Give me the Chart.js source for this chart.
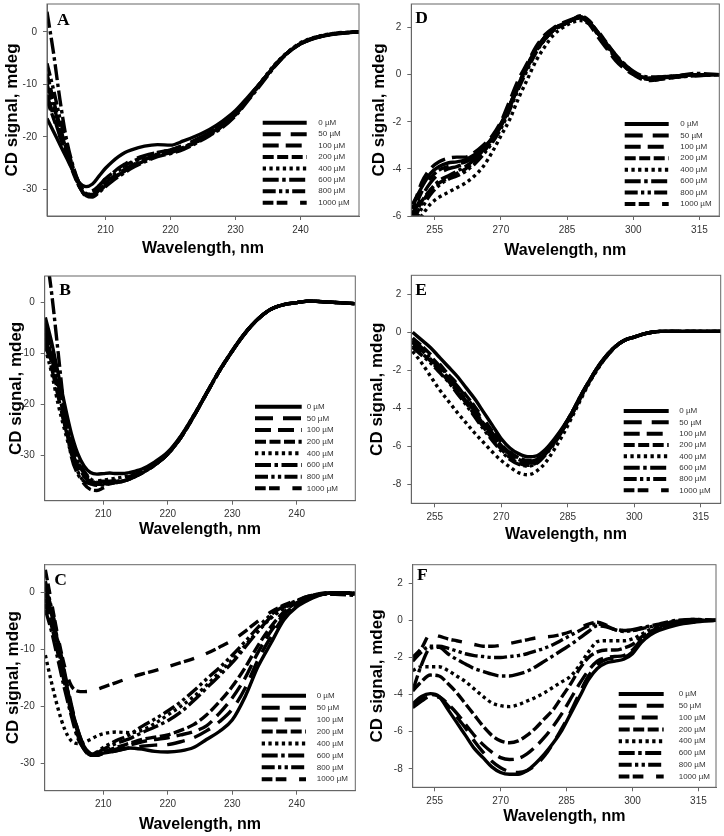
<!DOCTYPE html>
<html>
<head>
<meta charset="utf-8">
<script src="https://cdn.jsdelivr.net/npm/chart.js@4.4.1/dist/chart.umd.min.js"></script>
<style>
  html,body{margin:0;padding:0;background:#fff;}
  #wrap{position:relative;width:724px;height:836px;overflow:hidden;background:#fff;}
  canvas{position:absolute;}
</style>
</head>
<body>
<div id="wrap"></div>
<script>
// ---------- series labels ----------
const seriesLabels = ['0 µM','50 µM','100 µM','200 µM','400 µM','600 µM','800 µM','1000 µM'];

// ---------- tick labels ----------
const xTicksFar = [210, 220, 230, 240];
const xTicksNear = [255, 270, 285, 300, 315];
const yTicksFar = [0, -10, -20, -30];
const yTicksD = [2, 0, -2, -4, -6];
const yTicksEF = [2, 0, -2, -4, -6, -8];

// ---------- wavelengths ----------
const wlA = [201,202,203,204,205,206,207,208,209,210,211,212,213,214,216,218,220,222,224,226,228,230,232,234,236,238,240,242,245,249];
const wlB = [201,202,203,204,205,206,207,208,209,210,211,212,213,214,215,216,218,220,222,224,226,228,230,232,234,236,238,240,242,245,249];
const wlC = [201,202,203,204,205,206,207,208,209,210,212,214,216,218,220,222,224,226,228,230,232,234,236,238,240,242,244,246,249];
const wlD = [250,252,254,256,258,260,262,264,266,268,270,272,274,276,278,280,282,284,286,288,290,292,294,296,298,300,302,304,306,310,314,320];
const wlE = [250,252,254,256,258,260,262,264,266,268,270,272,274,276,278,280,282,284,286,288,290,292,294,296,298,300,302,304,306,310,314,320];
const wlF = [250,252,254,256,258,260,262,264,266,268,270,272,274,276,278,280,282,284,286,288,290,292,294,296,298,300,302,304,306,310,314,319];

// ---------- panel A ----------
const A_0    = [-16.5,-19,-21.5,-24,-26.5,-28.8,-29.5,-29,-27.5,-26,-24.8,-23.8,-23,-22.5,-21.8,-21.5,-21.6,-20.8,-19.8,-18.6,-17,-15,-12.3,-9.5,-6.5,-4,-2.3,-1.3,-0.5,0];
const A_50   = [-12,-16,-20,-23.5,-26.5,-29.2,-30.5,-30.3,-29.3,-28,-27,-26,-25.2,-24.5,-23.6,-23,-22.5,-21.6,-20.5,-19.2,-17.6,-15.5,-12.6,-9.6,-6.5,-4,-2.3,-1.3,-0.4,0];
const A_100  = [-10,-14,-18.5,-22.5,-26,-29,-30.8,-31,-30,-28.8,-27.8,-27,-26.2,-25.5,-24.3,-23.4,-22.8,-22,-20.8,-19.4,-17.8,-15.6,-12.7,-9.7,-6.6,-4.1,-2.3,-1.3,-0.4,0];
const A_200  = [-8,-13,-18,-22.5,-26.2,-29.5,-31.2,-31.3,-30.5,-29.3,-28.3,-27.3,-26.5,-25.8,-24.6,-23.6,-23,-22.2,-21,-19.6,-18,-15.8,-12.8,-9.7,-6.5,-4,-2.2,-1.2,-0.4,0];
const A_400  = [-11,-15,-19,-23,-26.5,-29.5,-31,-30.8,-29.8,-28.5,-27.5,-26.5,-25.8,-25,-24,-23.3,-22.8,-22,-20.8,-19.4,-17.8,-15.6,-12.5,-9.4,-6.3,-3.9,-2.1,-1.1,-0.3,0];
const A_600  = [3.8,-4,-13,-20.5,-25.5,-29,-31.2,-31.5,-30.6,-29.5,-28.5,-27.6,-26.8,-26,-24.8,-23.8,-23.2,-22.4,-21.2,-19.8,-18.2,-16,-13,-9.9,-6.7,-4.1,-2.3,-1.2,-0.4,0];
const A_800  = [-6,-11,-16.5,-21.5,-25.8,-29.3,-31.3,-31.2,-30.2,-29,-28,-27.2,-26.5,-25.6,-24.4,-23.5,-23,-22.2,-21,-19.6,-18,-15.8,-12.7,-9.6,-6.5,-4,-2.2,-1.2,-0.4,0];
const A_1000 = [-13,-16.5,-20,-23.5,-26.8,-29.6,-31,-30.6,-29.4,-28,-27,-26.2,-25.5,-24.8,-23.8,-23,-22.5,-21.7,-20.6,-19.2,-17.6,-15.4,-12.5,-9.5,-6.4,-4,-2.3,-1.2,-0.4,0];

// ---------- panel B ----------
const B_0    = [-3,-8,-14,-20,-25.5,-29.5,-32,-33.3,-33.6,-33.5,-33.4,-33.5,-33.5,-33.3,-33,-32.6,-31.2,-29.3,-26.2,-22.2,-17.8,-13.4,-9.5,-6,-3.3,-1.4,-0.5,-0.1,0.2,0,-0.3];
const B_50   = [-5,-10,-16,-22,-27,-31,-33.5,-34.6,-35,-35,-35,-34.8,-34.5,-34.1,-33.6,-33,-31.5,-29.5,-26.3,-22.3,-17.8,-13.4,-9.5,-6,-3.3,-1.4,-0.5,-0.1,0.2,0,-0.3];
const B_100  = [-8,-13,-18.5,-24,-28.5,-32,-34,-35,-35.3,-35.3,-35.2,-35,-34.8,-34.4,-33.9,-33.3,-31.7,-29.6,-26.4,-22.3,-17.9,-13.5,-9.6,-6,-3.3,-1.4,-0.5,-0.1,0.2,0,-0.3];
const B_200  = [-6,-11,-17,-23,-28,-31.8,-34,-35.2,-35.6,-35.6,-35.4,-35.2,-35,-34.6,-34,-33.4,-31.8,-29.7,-26.5,-22.4,-17.9,-13.5,-9.6,-6.1,-3.3,-1.4,-0.5,-0.1,0.2,0,-0.3];
const B_400  = [-9,-14,-20,-25,-29.5,-33,-35,-35.3,-35,-34.8,-34.6,-34.4,-34.2,-33.9,-33.5,-33,-31.5,-29.5,-26.3,-22.2,-17.8,-13.4,-9.5,-6,-3.3,-1.4,-0.5,-0.1,0.2,0,-0.3];
const B_600  = [11,1.5,-10,-21.5,-30,-33.5,-35,-35.5,-35.8,-35.7,-35.5,-35.2,-35,-34.6,-34,-33.4,-31.8,-29.7,-26.5,-22.4,-17.9,-13.5,-9.6,-6.1,-3.3,-1.4,-0.5,-0.1,0.2,0,-0.3];
const B_800  = [-4,-9,-15,-21,-26.5,-30.5,-33,-34.5,-35.2,-35.5,-35.4,-35.2,-35,-34.6,-34,-33.4,-31.8,-29.7,-26.5,-22.4,-17.9,-13.5,-9.6,-6.1,-3.3,-1.4,-0.5,-0.1,0.2,0,-0.3];
const B_1000 = [-7,-12,-18,-24,-29,-33,-35.5,-36.6,-36.8,-36.3,-35.8,-35.3,-35,-34.6,-34,-33.4,-31.8,-29.7,-26.5,-22.4,-17.9,-13.5,-9.6,-6.1,-3.3,-1.4,-0.5,-0.1,0.2,0,-0.3];

// ---------- panel C ----------
const C_0    = [0,-4,-9,-14.5,-20,-24,-27,-28.3,-28.6,-28.2,-27.8,-27.3,-27.5,-27.9,-28,-27.8,-27.2,-25.8,-24.4,-22.4,-18.3,-13,-8.9,-4.8,-2.5,-1.2,-0.3,0,-0.2];
const C_50   = [1,-3,-8.5,-14,-19.5,-24,-27,-28.3,-28.5,-28.2,-27.8,-27.3,-27,-26.8,-26.7,-26.2,-25.5,-24.3,-22.7,-20.5,-16.8,-11.8,-7.8,-4.3,-2.3,-1,-0.3,0,-0.2];
const C_100  = [-1,-5,-10,-15,-20,-24.5,-27.2,-28.5,-28.6,-28.2,-27.5,-26.8,-26.2,-25.8,-25.5,-25,-24.4,-23.4,-21.2,-18.5,-15,-10.5,-6.8,-3.9,-2.1,-0.9,-0.3,0,-0.2];
const C_200  = [-2,-6,-11,-16,-21,-25,-27.5,-28.6,-28.5,-28,-27.2,-26.5,-25.8,-25.4,-25,-24.2,-23.2,-21.5,-19.2,-16.5,-13.2,-9.3,-6,-3.4,-1.8,-0.8,-0.2,0,-0.2];
const C_400  = [-11,-16,-20.5,-24,-26,-26.5,-26.3,-25.8,-25.2,-24.8,-24.5,-24.6,-24.2,-23,-21.5,-20,-18.3,-16.3,-14,-11.8,-9.3,-6.8,-4.5,-2.8,-1.6,-0.7,-0.2,0,-0.2];
const C_600  = [-3,-7,-12,-17,-21.5,-25.5,-27.5,-28.5,-28.2,-27.5,-26.5,-25.7,-24.6,-23.6,-22.5,-21,-19,-16.8,-14.6,-12.3,-9.6,-6.8,-4.3,-2.6,-1.5,-0.7,-0.3,-0.3,-0.5];
const C_800  = [2,-3,-9,-15,-20,-24.5,-27.3,-28.5,-28,-27.2,-26,-25,-23.5,-22.2,-20.8,-19.2,-17.3,-15.2,-13.2,-11,-8.6,-6.1,-3.9,-2.4,-1.4,-0.6,-0.2,0,-0.2];
const C_1000 = [4,-2,-8,-13,-16.3,-17.3,-17.4,-17.3,-17,-16.6,-15.8,-15,-14.3,-13.7,-13,-12.3,-11.6,-10.7,-9.6,-8.4,-6.8,-5,-3.4,-2.2,-1.3,-0.6,-0.1,0,0];

// ---------- panel D ----------
const D_0    = [-5.5,-4.8,-4.2,-3.9,-3.75,-3.7,-3.6,-3.4,-3.1,-2.7,-2.1,-1.3,-0.4,0.4,1.1,1.6,1.95,2.15,2.3,2.45,2.2,1.75,1.25,0.8,0.4,0.1,-0.1,-0.15,-0.1,-0.05,0,0];
const D_50   = [-6,-5.2,-4.6,-4.2,-4,-3.9,-3.75,-3.5,-3.2,-2.8,-2.2,-1.4,-0.5,0.3,1.0,1.5,1.9,2.1,2.3,2.5,2.25,1.8,1.3,0.8,0.4,0.1,-0.1,-0.2,-0.15,-0.05,0,0];
const D_100  = [-5.7,-4.6,-4.0,-3.7,-3.55,-3.5,-3.5,-3.3,-3.0,-2.6,-2.0,-1.1,-0.2,0.5,1.2,1.7,2.0,2.2,2.35,2.45,2.15,1.6,1.1,0.6,0.25,0,-0.2,-0.25,-0.2,-0.1,-0.05,0];
const D_200  = [-6.2,-5.4,-4.9,-4.6,-4.4,-4.2,-4.0,-3.7,-3.3,-2.8,-2.2,-1.4,-0.5,0.3,1.0,1.5,1.9,2.1,2.3,2.4,2.2,1.75,1.25,0.75,0.35,0.05,-0.15,-0.2,-0.15,-0.05,0,0];
const D_400  = [-6.5,-6.0,-5.5,-5.2,-5.0,-4.8,-4.6,-4.3,-3.9,-3.3,-2.6,-1.9,-1.0,-0.2,0.6,1.2,1.7,2.0,2.2,2.3,2.15,1.7,1.2,0.7,0.35,0.05,-0.1,-0.15,-0.1,-0.05,0,0];
const D_600  = [-6.3,-5.5,-4.9,-4.5,-4.3,-4.1,-3.9,-3.6,-3.2,-2.7,-2.1,-1.3,-0.4,0.4,1.1,1.6,1.95,2.15,2.3,2.45,2.25,1.8,1.3,0.85,0.45,0.15,-0.05,-0.1,-0.1,-0.05,0.05,0];
const D_800  = [-6.4,-5.7,-5.1,-4.7,-4.45,-4.3,-4.1,-3.8,-3.4,-2.9,-2.3,-1.5,-0.6,0.2,0.95,1.5,1.9,2.1,2.3,2.45,2.2,1.75,1.25,0.8,0.4,0.1,-0.1,-0.2,-0.15,-0.1,-0.05,0];
const D_1000 = [-5.9,-5.0,-4.4,-4.05,-3.9,-3.8,-3.7,-3.5,-3.2,-2.7,-2.1,-1.3,-0.4,0.4,1.1,1.6,1.95,2.15,2.3,2.5,2.3,1.85,1.35,0.85,0.45,0.1,-0.15,-0.25,-0.2,-0.1,0,0];

// ---------- panel E ----------
const E_0    = [0,-0.4,-0.8,-1.3,-1.8,-2.3,-2.9,-3.5,-4.2,-4.9,-5.6,-6.1,-6.4,-6.55,-6.5,-6.15,-5.6,-4.95,-4.2,-3.3,-2.5,-1.75,-1.15,-0.7,-0.4,-0.25,-0.1,0,0.05,0.05,0.05,0.05];
const E_50   = [-0.4,-0.8,-1.25,-1.75,-2.3,-2.8,-3.4,-4.0,-4.7,-5.3,-5.9,-6.35,-6.65,-6.8,-6.7,-6.3,-5.7,-5.0,-4.2,-3.3,-2.5,-1.75,-1.15,-0.7,-0.4,-0.25,-0.1,0,0.05,0.05,0.05,0.05];
const E_100  = [-0.55,-0.95,-1.4,-1.9,-2.4,-3.0,-3.6,-4.2,-4.85,-5.45,-6.0,-6.45,-6.75,-6.9,-6.75,-6.35,-5.75,-5.05,-4.25,-3.35,-2.55,-1.8,-1.2,-0.7,-0.4,-0.25,-0.1,0,0.05,0.05,0.05,0.05];
const E_200  = [-0.7,-1.1,-1.5,-2.0,-2.55,-3.1,-3.7,-4.35,-5.0,-5.6,-6.15,-6.6,-6.9,-7.0,-6.85,-6.4,-5.8,-5.1,-4.3,-3.4,-2.55,-1.8,-1.2,-0.7,-0.4,-0.25,-0.1,0,0.05,0.05,0.05,0.05];
const E_400  = [-1.0,-1.6,-2.3,-3.0,-3.6,-4.2,-4.75,-5.3,-5.8,-6.3,-6.75,-7.1,-7.4,-7.5,-7.3,-6.85,-6.15,-5.35,-4.45,-3.5,-2.6,-1.85,-1.2,-0.7,-0.4,-0.25,-0.1,0,0.05,0.05,0.05,0.05];
const E_600  = [-0.5,-0.9,-1.35,-1.85,-2.4,-2.95,-3.55,-4.15,-4.8,-5.4,-5.95,-6.4,-6.7,-6.85,-6.7,-6.3,-5.7,-5.0,-4.2,-3.3,-2.5,-1.75,-1.15,-0.7,-0.4,-0.25,-0.1,0,0.05,0.05,0.05,0.05];
const E_800  = [-0.8,-1.2,-1.6,-2.1,-2.6,-3.2,-3.8,-4.45,-5.1,-5.7,-6.25,-6.7,-6.95,-7.05,-6.9,-6.45,-5.85,-5.1,-4.3,-3.4,-2.55,-1.8,-1.2,-0.7,-0.4,-0.25,-0.1,0,0.05,0.05,0.05,0.05];
const E_1000 = [-0.3,-0.7,-1.15,-1.65,-2.2,-2.7,-3.3,-3.9,-4.55,-5.2,-5.8,-6.3,-6.6,-6.75,-6.65,-6.3,-5.7,-5.0,-4.2,-3.3,-2.5,-1.75,-1.15,-0.7,-0.4,-0.25,-0.1,0,0.05,0.05,0.05,0.05];

// ---------- panel F ----------
const F_0    = [-4.5,-4.1,-3.95,-4.1,-4.8,-5.5,-6.2,-6.9,-7.4,-7.9,-8.2,-8.3,-8.3,-8.1,-7.7,-7.2,-6.6,-5.9,-5.0,-4.1,-3.2,-2.6,-2.3,-2.2,-2.1,-1.8,-1.2,-0.8,-0.55,-0.25,-0.1,0];
const F_50   = [-4.7,-4.35,-4.1,-4.15,-4.6,-5.2,-5.8,-6.5,-7.1,-7.6,-7.95,-8.15,-8.2,-8.1,-7.8,-7.3,-6.6,-5.8,-4.9,-3.9,-3.0,-2.4,-2.1,-2.05,-2.0,-1.7,-1.1,-0.7,-0.45,-0.2,-0.05,0];
const F_100  = [-4.6,-4.2,-4.0,-4.1,-4.5,-5.0,-5.6,-6.2,-6.7,-7.1,-7.4,-7.5,-7.45,-7.2,-6.8,-6.3,-5.7,-5.0,-4.2,-3.4,-2.7,-2.2,-2.0,-1.95,-1.9,-1.6,-1.05,-0.7,-0.45,-0.15,0,0];
const F_200  = [-3.8,-3.3,-2.95,-3.0,-3.4,-3.9,-4.5,-5.1,-5.7,-6.2,-6.5,-6.6,-6.5,-6.2,-5.8,-5.3,-4.8,-4.1,-3.4,-2.6,-2.0,-1.7,-1.6,-1.6,-1.5,-1.3,-0.9,-0.6,-0.4,-0.1,0.05,0];
const F_400  = [-2.7,-2.5,-2.5,-2.5,-2.7,-3.0,-3.3,-3.7,-4.1,-4.45,-4.6,-4.65,-4.55,-4.35,-4.15,-3.9,-3.6,-3.3,-3.0,-2.4,-1.7,-1.15,-1.1,-1.1,-1.1,-1.0,-0.75,-0.5,-0.35,-0.1,0,0];
const F_600  = [-3.8,-2.4,-1.5,-1.45,-1.8,-2.1,-2.35,-2.6,-2.75,-2.9,-3.0,-3.0,-2.9,-2.75,-2.5,-2.2,-1.9,-1.6,-1.3,-0.95,-0.6,-0.3,-0.35,-0.5,-0.55,-0.5,-0.4,-0.3,-0.2,0,0.05,0];
const F_800  = [-2.2,-1.7,-1.4,-1.4,-1.5,-1.65,-1.8,-1.9,-1.95,-2.0,-2.0,-1.95,-1.9,-1.8,-1.65,-1.5,-1.3,-1.05,-0.8,-0.55,-0.3,-0.2,-0.3,-0.5,-0.6,-0.55,-0.45,-0.35,-0.25,-0.05,0,0];
const F_1000 = [-2.0,-1.5,-0.75,-0.85,-1.0,-1.1,-1.2,-1.3,-1.4,-1.4,-1.35,-1.25,-1.15,-1.05,-0.95,-0.9,-0.85,-0.75,-0.6,-0.4,-0.2,-0.1,-0.25,-0.45,-0.55,-0.55,-0.45,-0.35,-0.25,-0.05,0,0];

// ---------- styles ----------
const dashes = [[], [18,10], [16,7], [11,3.5], [3.3,3.4], [16,3.5,3.5,3.5], [13,3.3,3.3,3.3,3.3,3.3], [10.7,3.3,10.7,12.7]];
const FONT = '"Liberation Sans", Arial, Helvetica, sans-serif';

const panels = [
  {letter:'A', cx:0,   cy:0,   cw:362, ch:262, area:[47,4,359,216],      xr:[201,249], yr:[-35.1,5.3], xt:xTicksFar,  yt:yTicksFar, wl:wlA, s:[A_0,A_50,A_100,A_200,A_400,A_600,A_800,A_1000], lt:{dx:10,dy:21}, lg:{dx:-96.3,dy:-93.3,len:44,tx:-40.7,sp:11.43}, xtp:4.4, ytp:3},
  {letter:'D', cx:362, cy:0,   cw:362, ch:262, area:[411.3,4,719.3,216], xr:[249.7,319.5], yr:[-6,3], xt:xTicksNear, yt:yTicksD,  wl:wlD, s:[D_0,D_50,D_100,D_200,D_400,D_600,D_800,D_1000], lt:{dx:4,dy:19.3}, lg:{dx:-94.6,dy:-92,len:44,tx:-39,sp:11.43}, xtp:1.7, ytp:7.9},
  {letter:'B', cx:0,   cy:262, cw:362, ch:283, area:[44.7,276,355.3,500.7], xr:[200.9,249.1], yr:[-38.8,5.1], xt:xTicksFar, yt:yTicksFar, wl:wlB, s:[B_0,B_50,B_100,B_200,B_400,B_600,B_800,B_1000], lt:{dx:14.6,dy:19}, lg:{dx:-100.3,dy:-94,len:46.7,tx:-48.6,sp:11.66}, xtp:6.4, ytp:7},
  {letter:'E', cx:362, cy:262, cw:362, ch:283, area:[411.3,275.3,720.7,503.3], xr:[249.7,319.5], yr:[-9,3], xt:xTicksNear, yt:yTicksEF, wl:wlE, s:[E_0,E_50,E_100,E_200,E_400,E_600,E_800,E_1000], lt:{dx:4,dy:19.7}, lg:{dx:-97,dy:-92.3,len:45,tx:-41.4,sp:11.33}, xtp:1.4, ytp:6},
  {letter:'C', cx:0,   cy:545, cw:362, ch:291, area:[44.7,564.7,355.3,790.7], xr:[200.9,249.1], yr:[-34.8,4.9], xt:xTicksFar, yt:yTicksFar, wl:wlC, s:[C_0,C_50,C_100,C_200,C_400,C_600,C_800,C_1000], lt:{dx:9.6,dy:20.3}, lg:{dx:-93.6,dy:-95,len:44.3,tx:-38.6,sp:11.94}, xtp:2.4, ytp:3.7},
  {letter:'F', cx:362, cy:545, cw:362, ch:291, area:[412.7,564.7,716,787.3], xr:[250,319], yr:[-9,3], xt:xTicksNear, yt:yTicksEF, wl:wlF, s:[F_0,F_50,F_100,F_200,F_400,F_600,F_800,F_1000], lt:{dx:4.3,dy:15.3}, lg:{dx:-97.3,dy:-93.3,len:45,tx:-37.3,sp:11.8}, xtp:9.7, ytp:6}
];

const panelDecor = {
  id: 'panelDecor',
  afterDatasetsDraw(chart, args, o) {
    const ctx = chart.ctx, a = chart.chartArea;
    ctx.save();
    ctx.setLineDash([]);
    ctx.strokeStyle = '#666';
    ctx.lineWidth = 1;
    ctx.strokeRect(a.left, a.top, a.right - a.left, a.bottom - a.top);
    chart.data.datasets.forEach((ds, i) => {
      const y = a.bottom + o.lg.dy + i * o.lg.sp;
      const x0 = a.right + o.lg.dx;
      ctx.beginPath();
      ctx.setLineDash(ds.borderDash || []);
      ctx.lineDashOffset = 0;
      ctx.lineCap = 'butt';
      ctx.lineWidth = 4;
      ctx.strokeStyle = '#000';
      ctx.moveTo(x0, y);
      ctx.lineTo(x0 + o.lg.len, y);
      ctx.stroke();
      ctx.setLineDash([]);
      ctx.fillStyle = '#333';
      ctx.font = '8px ' + FONT;
      ctx.textBaseline = 'middle';
      ctx.textAlign = 'left';
      ctx.fillText(ds.label, a.right + o.lg.tx, y);
    });
    ctx.fillStyle = '#000';
    ctx.font = 'bold 17.5px "Liberation Serif", "Times New Roman", serif';
    ctx.textBaseline = 'alphabetic';
    ctx.textAlign = 'left';
    ctx.fillText(o.letter, a.left + o.lt.dx, a.top + o.lt.dy);
    ctx.restore();
  }
};

const wrap = document.getElementById('wrap');
panels.forEach(p => {
  const cv = document.createElement('canvas');
  cv.width = p.cw; cv.height = p.ch;
  cv.style.left = p.cx + 'px'; cv.style.top = p.cy + 'px';
  cv.style.width = p.cw + 'px'; cv.style.height = p.ch + 'px';
  wrap.appendChild(cv);
  const [L, T, R, B] = p.area;
  const yW = L - p.cx;
  const xH = (p.cy + p.ch) - B;
  const padTop = T - p.cy;
  const padRight = (p.cx + p.cw) - R;

  const datasets = p.s.map((vals, i) => ({
    label: seriesLabels[i],
    data: p.wl.map((w, j) => ({x: w, y: vals[j]})),
    borderColor: '#000',
    backgroundColor: '#000',
    borderWidth: 3.4,
    borderDash: dashes[i],
    borderCapStyle: 'butt',
    borderJoinStyle: 'round',
    pointRadius: 0,
    fill: false,
    cubicInterpolationMode: 'monotone'
  }));

  new Chart(cv, {
    type: 'line',
    data: { datasets },
    plugins: [panelDecor],
    options: {
      responsive: false,
      animation: false,
      devicePixelRatio: 1,
      layout: { padding: { top: padTop, right: padRight, left: 0, bottom: 0 } },
      plugins: {
        legend: { display: false },
        tooltip: { enabled: false },
        panelDecor: { letter: p.letter, lt: p.lt, lg: p.lg }
      },
      scales: {
        x: {
          type: 'linear', min: p.xr[0], max: p.xr[1],
          afterBuildTicks: s => { s.ticks = p.xt.map(v => ({value: v})); },
          afterFit: s => { s.height = xH; s.paddingLeft = 0; s.paddingRight = 0; },
          grid: { display: true, drawOnChartArea: false, drawTicks: true, tickLength: 4, color: '#666' },
          border: { display: true, color: '#666' },
          ticks: { color: '#333', padding: 4, font: { family: FONT, size: 10 }, maxRotation: 0, callback: v => String(v) },
          title: { display: true, text: 'Wavelength, nm', color: '#000', font: { family: FONT, size: 16, weight: 'bold' }, padding: { top: 0, bottom: p.xtp - 0.3 } }
        },
        y: {
          type: 'linear', min: p.yr[0], max: p.yr[1],
          afterBuildTicks: s => { s.ticks = p.yt.map(v => ({value: v})); },
          afterFit: s => { s.width = yW; s.paddingTop = 0; s.paddingBottom = 0; },
          grid: { display: true, drawOnChartArea: false, drawTicks: true, tickLength: 4, color: '#666' },
          border: { display: true, color: '#666' },
          ticks: { color: '#333', padding: 6, font: { family: FONT, size: 10 }, callback: v => String(v) },
          title: { display: true, text: 'CD signal, mdeg', color: '#000', font: { family: FONT, size: 17, weight: 'bold' }, padding: { top: p.ytp - 0.8, bottom: 0 } }
        }
      }
    }
  });
});
</script>
</body>
</html>
